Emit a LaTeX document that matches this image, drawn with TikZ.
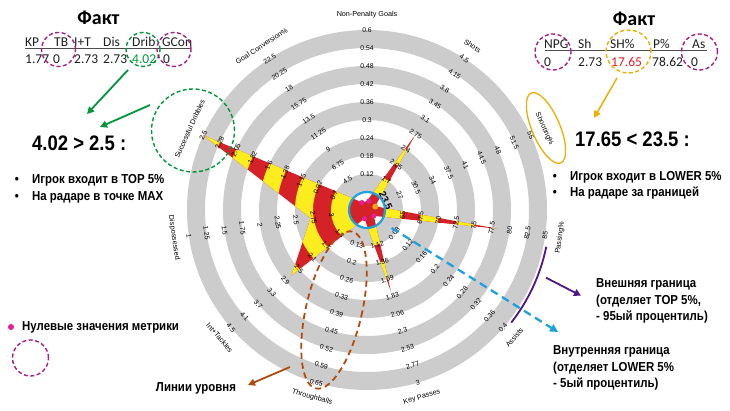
\documentclass[tikz,border=0pt]{standalone}
\usepackage{fontspec}
\setmainfont{Liberation Sans}
\newfontfamily\narrowf[FakeStretch=0.88]{Liberation Sans}
\newfontfamily\calib{Carlito}
\usetikzlibrary{arrows.meta}
\definecolor{ringgray}{RGB}{204,204,204}
\definecolor{radred}{RGB}{213,33,40}
\definecolor{radyel}{RGB}{252,238,30}
\definecolor{cyanc}{RGB}{28,162,222}
\definecolor{dashmag}{RGB}{168,30,130}
\definecolor{dotmag}{RGB}{228,30,150}
\definecolor{greenc}{RGB}{0,150,60}
\definecolor{goldc}{RGB}{236,176,0}
\definecolor{brownc}{RGB}{178,75,12}
\definecolor{purplec}{RGB}{78,22,138}
\definecolor{orangec}{RGB}{250,160,20}
\definecolor{redtxt}{RGB}{228,30,40}
\definecolor{tabtxt}{RGB}{30,30,30}
\begin{document}
\begin{tikzpicture}[x=1pt,y=1pt,
  rlab/.style={font=\fontsize{6.8}{7}\selectfont, inner sep=0pt},
  axlab/.style={font=\fontsize{7.2}{8}\selectfont, inner sep=0pt},
  tab/.style={font=\calib\fontsize{13.5}{14}\selectfont, inner sep=0pt, anchor=base west, text=tabtxt},
  fakt/.style={font=\calib\bfseries\fontsize{20}{22}\selectfont, inner sep=0pt},
  big/.style={font=\narrowf\bfseries\fontsize{21}{24}\selectfont, inner sep=0pt},
  note/.style={font=\narrowf\bfseries\fontsize{13}{16.3}\selectfont, inner sep=0pt, align=left},
  dcirc/.style={line width=1.4pt, dash pattern=on 4pt off 2.5pt},
  arr/.style={line width=1.8pt, -{Triangle[length=7pt,width=7pt]}},
]
\useasboundingbox (0,0) rectangle (730,411);
\fill[white] (0,0) rectangle (730,411);

% ---------------- radar ----------------
\begin{scope}[shift={(367,201)}]
 \fill[ringgray, even odd rule] (0,0) circle (180) (0,0) circle (162) (0,0) circle (144)
   (0,0) circle (126) (0,0) circle (108) (0,0) circle (90) (0,0) circle (72)
   (0,0) circle (54) (0,0) circle (36) (0,0) circle (18);
 \begin{scope}
  \clip (90:9) -- (57.27:89) -- (24.55:9) -- (-8.18:132) -- (-40.91:9) -- (-73.64:85)
     -- (-106.36:9) -- (-139.09:100) -- (188.18:57) -- (155.45:180) -- (122.73:9) -- cycle;
  \fill[radred] (0,0) circle (186);
  \fill[radyel, even odd rule] (0,0) circle (180) (0,0) circle (162) (0,0) circle (144)
   (0,0) circle (126) (0,0) circle (108) (0,0) circle (90) (0,0) circle (72)
   (0,0) circle (54) (0,0) circle (36) (0,0) circle (18);
 \end{scope}
 \foreach \a/\r/\nm/\L [count=\i] in {
  90/0/{Non-Penalty Goals}/{0.12,0.18,0.24,0.3,0.36,0.42,0.48,0.54,0.6},
  57.27/-32.73/{Shots}/{1.7,2.05,2.4,2.75,3.1,3.45,3.8,4.15,4.5},
  24.55/-65.45/{Shooting\%}/{27,30.5,34,37.5,41,44.5,48,51.5,55},
  -8.18/81.82/{Passing\%}/{65,67.5,70,72.5,75,77.5,80,82.5,85},
  -40.91/49.09/{Assists}/{0.08,0.12,0.16,0.2,0.24,0.28,0.32,0.36,0.4},
  -73.64/16.36/{Key Passes}/{1.12,1.36,1.59,1.83,2.06,2.3,2.53,2.77,3},
  -106.36/-16.36/{Throughballs}/{0.13,0.2,0.26,0.33,0.39,0.45,0.52,0.59,0.65},
  -139.09/-49.09/{Int+Tackles}/{1.3,1.7,2.1,2.5,2.9,3.3,3.7,4.1,4.5},
  188.18/-81.82/{Dispossessed}/{3,2.75,2.5,2.25,2,1.75,1.5,1.25,1},
  155.45/65.45/{Successful Dribbles}/{0.7,0.92,1.15,1.38,1.6,1.82,2.05,2.28,2.5},
  122.73/32.73/{Goal Conversion\%}/{4.5,6.75,9,11.25,13.5,15.75,18,20.25,22.5}}
 {
  \node[axlab, rotate=\r] (ax\i) at ({\a}:195) {\nm};
  \foreach \v [count=\k from 2] in \L {
    \node[rlab, rotate=\r] (lab\i-\k) at ({\a}:{18*\k}) {\v};
  }
 }
 \node[font=\bfseries\fontsize{10}{10}\selectfont, rotate=-65.45, inner sep=0pt] (lab3-1) at (27:21) {23.5};
 \draw[cyanc, line width=2.2pt] (0,0) circle (18);
 \fill[dotmag] (78:9) circle (2.6);
 \fill[dotmag] (-40.91:9) circle (2.6);
 \fill[dotmag] (-106.36:9) circle (2.6);
 \fill[dotmag] (125:9) circle (2.6);
 \fill[orangec] (22:9) circle (3);
 \draw[purplec, line width=1.8pt] (-11.6:183) arc[start angle=-11.6, end angle=-38, radius=183];
\end{scope}

% level lines
\draw[brownc, line width=1.8pt, dash pattern=on 6pt off 4pt, rotate around={-13:(334,101)}]
  (334,101) ellipse [x radius=28, y radius=80.5];

% highlight circles
\draw[greenc, dcirc] (193,280.5) circle (41.5);
\draw[goldc, line width=1.3pt, rotate around={-67:(546,283)}] (546,283) ellipse [x radius=38, y radius=14];

% ---------------- left table ----------------
\node[fakt] (faktL) at (98.5,393) {Факт};
\node[tab] (hl1) at (25,364.3) {KP};
\node[tab] (hl2) at (54,364.3) {TB};
\node[tab] (hl3) at (74,364.3) {I+T};
\node[tab] (hl4) at (103,364.3) {Dis};
\node[tab] (hl5) at (132,364.3) {Drib};
\node[tab] (hl6) at (162,364.3) {GCon};
\draw[line width=0.8pt, black!70] (25,363) -- (190,363);
\node[tab] (vl1) at (25,347.7) {1.77};
\node[tab] (vl2) at (53,347.7) {0};
\node[tab] (vl3) at (74,347.7) {2.73};
\node[tab] (vl4) at (103,347.7) {2.73};
\node[tab, text=greenc] (vl5) at (132,347.7) {4.02};
\node[tab] (vl6) at (163,347.7) {0};
\draw[dashmag, dcirc] (58.5,361.5) circle (17);
\draw[greenc, dcirc] (143,361.5) circle (17);
\draw[dashmag, dcirc] (174,361.5) circle (17);

% ---------------- right table ----------------
\node[fakt] (faktR) at (634,392) {Факт};
\node[tab] (hr1) at (544,362.7) {NPG};
\node[tab] (hr2) at (578,362.7) {Sh};
\node[tab] (hr3) at (610,362.7) {SH\%};
\node[tab] (hr4) at (653,362.7) {P\%};
\node[tab] (hr5) at (692,362.7) {As};
\draw[line width=0.8pt, black!70] (545,361) -- (707,361);
\node[tab] (vr1) at (544,344.5) {0};
\node[tab] (vr2) at (578,344.5) {2.73};
\node[tab, text=redtxt] (vr3) at (611,344.5) {17.65};
\node[tab] (vr4) at (652,344.5) {78.62};
\node[tab] (vr5) at (691,344.5) {0};
\draw[dashmag, dcirc] (553,359) circle (18);
\draw[goldc, dcirc] (628.5,359.5) ellipse [x radius=22.5, y radius=21.5];
\draw[dashmag, dcirc] (699.5,359) circle (18);

% ---------------- texts ----------------
\node[big, anchor=west] (cmpL) at (32,268) {4.02 > 2.5 :};
\node[note, anchor=west] (bL1) at (14.7,231) {\makebox[17.3pt][l]{•}Игрок входит в TOP 5\%};
\node[note, anchor=west] (bL2) at (14.7,213.5) {\makebox[17.3pt][l]{•}На радаре в точке MAX};

\node[big, anchor=west] (cmpR) at (575,271.3) {17.65 < 23.5 :};
\node[note, anchor=west] (bR1) at (552.7,234) {\makebox[17.3pt][l]{•}Игрок входит в LOWER 5\%};
\node[note, anchor=west] (bR2) at (552.7,217.5) {\makebox[17.3pt][l]{•}На радаре за границей};

\node[note, anchor=west] (outer) at (596,110) {Внешняя граница\\(отделяет TOP 5\%,\\- 95ый процентиль)};
\node[note, anchor=west] (inner) at (553,43) {Внутренняя граница\\(отделяет LOWER 5\%\\- 5ый процентиль)};

\fill[dotmag] (11,84) circle (3);
\node[note, anchor=west] (zeroes) at (22,84) {Нулевые значения метрики};
\draw[dashmag, dcirc] (30.5,53) circle (18);
\node[note] (levels) at (196,23) {Линии уровня};

% ---------------- arrows ----------------
\coordinate (ga1) at (128,341); \coordinate (ga2) at (87,297);
\draw[arr, greenc] (ga1) -- (ga2);
\coordinate (gb1) at (150,306); \coordinate (gb2) at (100,284);
\draw[arr, greenc] (gb1) -- (gb2);
\coordinate (ya1) at (617,333); \coordinate (ya2) at (594,293);
\draw[arr, goldc, line width=1.5pt] (ya1) -- (ya2);
\coordinate (ba1) at (290,44); \coordinate (ba2) at (248,26);
\draw[arr, brownc] (ba1) -- (ba2);
\coordinate (pa1) at (546,133.3); \coordinate (pa2) at (581,115.3);
\draw[arr, purplec] (pa1) -- (pa2);
\coordinate (ca1) at (391.7,183); \coordinate (ca2) at (558,79);
\draw[cyanc, line width=2.3pt, dash pattern=on 8pt off 5pt, -{Triangle[length=8pt,width=8pt]}] (ca1) -- (ca2);
\end{tikzpicture}
\end{document}
